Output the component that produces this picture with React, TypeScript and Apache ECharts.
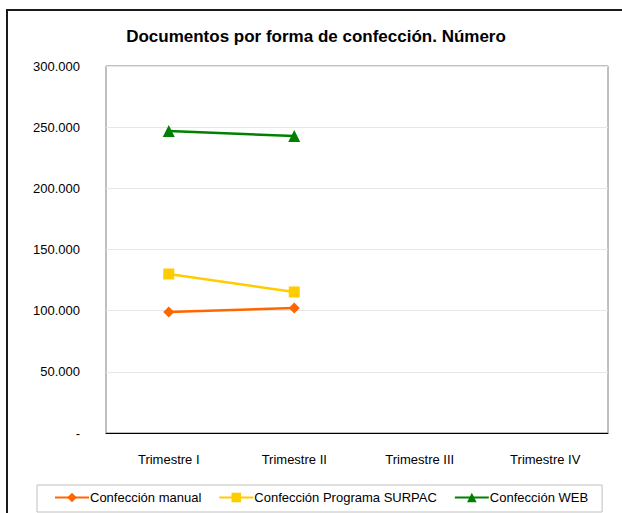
import React, { useEffect, useRef } from "react";
import * as echarts from "echarts";

const categories = ["Trimestre I", "Trimestre II", "Trimestre III", "Trimestre IV"];
const manual = [99000, 102200, null, null];
const surpac = [130000, 115300, null, null];
const web = [246800, 242800, null, null];
const yTicks = [0, 50000, 100000, 150000, 200000, 250000, 300000];

const FONT = "'Liberation Sans Narrow', 'Arial Narrow', 'Liberation Sans', Arial, sans-serif";

function fmt(v: number): string {
  if (v === 0) return "-";
  return String(v).replace(/\B(?=(\d{3})+(?!\d))/g, ".");
}

export default function App() {
  const ref = useRef<HTMLDivElement>(null);
  useEffect(() => {
    if (!ref.current) return;
    const chart = echarts.init(ref.current, null, { renderer: "svg" });
    chart.setOption({
      animation: false,
      backgroundColor: "#ffffff",
      title: {
        text: "Documentos por forma de confección. Número",
        left: 311,
        textAlign: "center",
        top: 23,
        textStyle: { fontFamily: FONT, fontSize: 17, fontWeight: "bold", color: "#000" },
      },
      graphic: [
        {
          type: "rect",
          shape: { x: 7, y: 10, width: 700, height: 600 },
          style: { fill: "none", stroke: "#1a1a1a", lineWidth: 2 },
          silent: true,
        },
      ],
      grid: { left: 106, right: 14, top: 66, bottom: 80, show: true, borderColor: "#808080", borderWidth: 1 },
      legend: {
        bottom: 1,
        left: 37,
        width: 558,
        padding: [6, 14, 8, 17],
        itemGap: 17,
        itemWidth: 34,
        itemHeight: 12,
        borderColor: "#bfbfbf",
        borderWidth: 1,
        backgroundColor: "#fff",
        textStyle: { fontFamily: FONT, fontSize: 13, color: "#000", padding: [0, 0, 0, -4] },
        data: ["Confección manual", "Confección Programa SURPAC", "Confección WEB"],
      },
      xAxis: {
        type: "category",
        data: categories,
        boundaryGap: true,
        axisLine: { lineStyle: { color: "#000" } },
        axisTick: { show: false },
        axisLabel: { fontFamily: FONT, fontSize: 13, color: "#000", margin: 20 },
      },
      yAxis: {
        type: "value",
        min: 0,
        max: 300000,
        interval: 50000,
        axisLine: { show: false },
        axisTick: { show: false },
        splitLine: { lineStyle: { color: "#e6e6e6" } },
        axisLabel: {
          fontFamily: FONT,
          fontSize: 13,
          color: "#000",
          margin: 26,
          formatter: (v: number) => (yTicks.includes(v) ? fmt(v) : ""),
        },
      },
      series: [
        {
          name: "Confección manual",
          type: "line",
          data: manual,
          symbol: "diamond",
          symbolSize: 11,
          lineStyle: { width: 2.5, color: "#ff6600" },
          itemStyle: { color: "#ff6600" },
        },
        {
          name: "Confección Programa SURPAC",
          type: "line",
          data: surpac,
          symbol: "rect",
          symbolSize: 11,
          lineStyle: { width: 2.5, color: "#ffcc00" },
          itemStyle: { color: "#ffcc00" },
        },
        {
          name: "Confección WEB",
          type: "line",
          data: web,
          symbol: "triangle",
          symbolSize: 12,
          lineStyle: { width: 2.5, color: "#008000" },
          itemStyle: { color: "#008000" },
        },
      ],
    });
    return () => chart.dispose();
  }, []);
  return <div ref={ref} style={{ position: "absolute", left: 0, top: 0, width: 622, height: 513 }} />;
}
